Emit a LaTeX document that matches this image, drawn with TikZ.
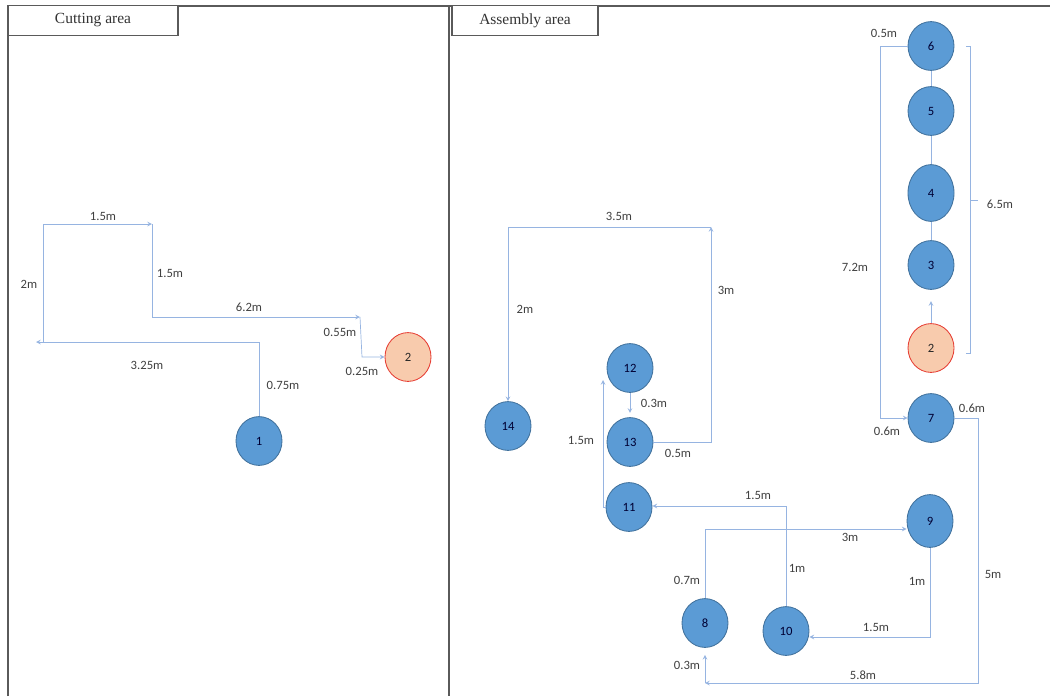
\documentclass[tikz,border=0pt]{standalone}
\usepackage{fontspec}
\setmainfont{Carlito}
\newfontfamily\areafont{Liberation Serif}
\usetikzlibrary{arrows,shapes.geometric,positioning}
\definecolor{stationfill}{RGB}{91,155,213}
\definecolor{stationline}{RGB}{65,113,156}
\definecolor{startfill}{RGB}{248,203,173}
\definecolor{startline}{RGB}{230,60,50}
\definecolor{routecol}{RGB}{150,180,225}
\definecolor{framecol}{RGB}{90,90,90}

\begin{document}
\begin{tikzpicture}[x=0.025cm,y=-0.025cm,>=stealth,
  station/.style={ellipse,draw=stationline,fill=stationfill,line width=0.6pt,inner sep=0pt,minimum width=1.15cm,minimum height=1.22cm,font=\fontsize{9}{9}\selectfont,text=black!80!blue},
  start/.style={station,draw=startline,fill=startfill,text=black!85},
  route/.style={draw=routecol,line width=0.5pt},
  len/.style={font=\fontsize{9}{9}\selectfont,text=black!75,inner sep=1pt},
  area/.style={draw=framecol,fill=white,line width=0.8pt,font=\areafont\fontsize{11}{11}\selectfont,text=black!80,inner sep=0pt,minimum height=0.73cm}]
\useasboundingbox (0,0) rectangle (1050,696);

\draw[framecol,line width=0.9pt] (8,696) -- (8,6) -- (1050,6);
\draw[framecol,line width=0.9pt] (449,6) -- (449,696);
\node[area,minimum width=4.25cm] (cut) at (93,20.5) {Cutting area};
\node[area,minimum width=3.65cm] (asm) at (525,20.5) {Assembly area};

% cutting area
\node[station] (c1) at (259,441) {1};
\node[start] (c2) at (408,357) {2};
\coordinate (k1) at (259,342);
\coordinate (k2) at (36,342);
\coordinate (k3) at (43,224);
\coordinate (k4) at (152,224);
\coordinate (k5) at (152,317);
\coordinate (k6) at (360,317);
\coordinate (k7) at (362,357);
\draw[route,->] (c1) -- (k1) -- (k2);
\draw[route,->] (43,342) -- (k3) -- (k4);
\draw[route,->] (k4) -- (k5) -- (k6);
\draw[route,->] (k6) -- (k7) -- (c2);
\node[len] (l1) at (103,216) {1.5m};
\node[len] (l2) at (29,284) {2m};
\node[len] (l3) at (170,273) {1.5m};
\node[len] (l4) at (249,307) {6.2m};
\node[len] (l5) at (340,332) {0.55m};
\node[len] (l6) at (362,371) {0.25m};
\node[len] (l7) at (147,365) {3.25m};
\node[len] (l8) at (283,385) {0.75m};

% assembly area
\node[station] (a6) at (931,46) {6};
\node[station] (a5) at (931,111) {5};
\node[station,minimum height=1.42cm] (a4) at (931,193) {4};
\node[station] (a3) at (931,265) {3};
\node[start] (a2) at (931,348) {2};
\node[station] (a7) at (931,418) {7};
\node[station,minimum height=1.32cm] (a9) at (930,521) {9};
\node[station] (a8) at (705,623) {8};
\node[station] (a10) at (786,631) {10};
\node[station] (a11) at (629,507) {11};
\node[station] (a13) at (630,442) {13};
\node[station] (a12) at (630,368) {12};
\node[station] (a14) at (508,426) {14};

\draw[route] (a6) -- (a5);
\draw[route] (a5) -- (a4);
\draw[route] (a4) -- (a3);
\draw[route,->,shorten >=8pt] (a2) -- (a3);

\coordinate (r1) at (880,46);
\coordinate (r2) at (880,418);
\draw[route,->] (a6) -- (r1) -- (r2) -- (a7);

\draw[route] (966,46) -- (970,46) -- (970,353) -- (966,353);
\draw[route] (970,200) -- (978,200);

\coordinate (r3) at (978,418);
\coordinate (r4) at (978,683);
\coordinate (r5) at (705,683);
\draw[route,->] (a7) -- (r3) -- (r4) -- (r5);
\draw[route,->,shorten >=5pt] (r5) -- (a8);

\coordinate (r6) at (705,529);
\draw[route,->] (a8.north) -- (r6) -- (r6 -| a9.west);

\coordinate (r7) at (930,637);
\draw[route,->] (a9.south) -- (r7) -- (r7 -| a10.east);

\coordinate (r8) at (786,506);
\draw[route,->] (a10.north) -- (r8) -- (r8 -| a11.east);

\coordinate (r9) at (603,380);
\draw[route,->] (a11.west) -| (r9);

\draw[route,->,shorten >=3pt] (a12) -- (a13);

\coordinate (r10) at (711,442);
\coordinate (r11) at (711,227);
\coordinate (r12) at (508,227);
\draw[route,->] (a13) -- (r10) -- (r11);
\draw[route,->] (r11) -- (r12) -- (a14);

\node[len] (m1) at (884,33) {0.5m};
\node[len] (m2) at (855,267) {7.2m};
\node[len] (m3) at (1000,204) {6.5m};
\node[len] (m4) at (887,431) {0.6m};
\node[len] (m5) at (972,408) {0.6m};
\node[len] (m6) at (993,574) {5m};
\node[len] (m7) at (863,675) {5.8m};
\node[len] (m8) at (687,665) {0.3m};
\node[len] (m9) at (687,580) {0.7m};
\node[len] (m10) at (850,537) {3m};
\node[len] (m11) at (797,568) {1m};
\node[len] (m12) at (917,581) {1m};
\node[len] (m13) at (876,627) {1.5m};
\node[len] (m14) at (758,495) {1.5m};
\node[len] (m15) at (581,440) {1.5m};
\node[len] (m16) at (654,403) {0.3m};
\node[len] (m17) at (678,453) {0.5m};
\node[len] (m18) at (726,290) {3m};
\node[len] (m19) at (619,216) {3.5m};
\node[len] (m20) at (525,309) {2m};
\end{tikzpicture}
\end{document}
